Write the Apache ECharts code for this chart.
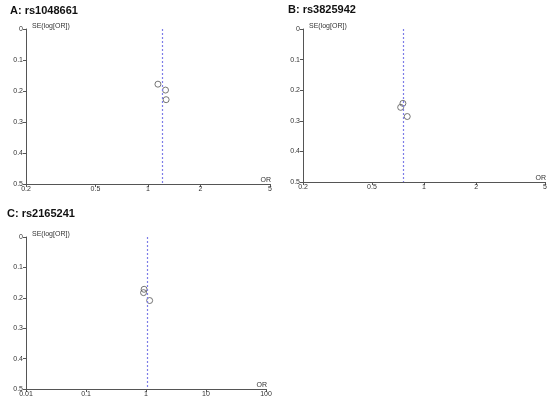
<!DOCTYPE html>
<html>
<head>
<meta charset="utf-8">
<script src="https://cdn.jsdelivr.net/npm/echarts@6/dist/echarts.min.js"></script>
<style>
  body { margin: 0; background: #fff; }
  #chart { width: 550px; height: 400px; }
</style>
</head>
<body>
<div id="chart"></div>
<script>
  // panel titles
  var titles = ['A: rs1048661', 'B: rs3825942', 'C: rs2165241']

  // OR / SE(log[OR]) per study
  var orA = [1.14, 1.26, 1.27]
  var seA = [0.178, 0.197, 0.228]
  var pooledA = 1.21

  var orB = [0.733, 0.755, 0.80]
  var seB = [0.256, 0.243, 0.286]
  var pooledB = 0.76

  var orC = [0.93, 0.91, 1.15]
  var seC = [0.172, 0.183, 0.209]
  var pooledC = 1.03

  // tick labels
  var xTicksAB = [0.2, 0.5, 1, 2, 5]
  var xTicksC = [0.01, 0.1, 1, 10, 100]

  var font = 'Liberation Sans, Arial, sans-serif'
  var axisColor = '#555'
  var textColor = '#333'

  function pairs(or, se) {
    return or.map(function (v, i) { return [v, se[i]] })
  }

  var grids = [
    {left: 26, top: 29, width: 244, height: 155},
    {left: 303, top: 29, width: 245, height: 153},
    {left: 26, top: 237, width: 240, height: 152}
  ]

  function xAxis(idx, ticks) {
    return {
      type: 'log',
      logBase: 10,
      gridIndex: idx,
      position: 'bottom',
      min: ticks[0],
      max: ticks[ticks.length - 1],
      name: 'OR',
      nameLocation: 'end',
      nameGap: 1,
      nameTextStyle: {color: textColor, fontSize: 7, fontFamily: font, align: 'right', verticalAlign: 'bottom'},
      axisLine: {onZero: false, lineStyle: {color: axisColor, width: 1}},
      axisTick: {show: true, length: 3, customValues: ticks, lineStyle: {color: axisColor}},
      axisLabel: {customValues: ticks, margin: 2, fontSize: 7, color: textColor, fontFamily: font,
        formatter: function (v) { return String(+v.toPrecision(3)) }},
      splitLine: {show: false},
      minorTick: {show: false}
    }
  }

  function yAxis(idx) {
    return {
      type: 'value',
      gridIndex: idx,
      inverse: true,
      min: 0,
      max: 0.5,
      interval: 0.1,
      name: 'SE(log[OR])',
      nameLocation: 'start',
      nameGap: 3,
      nameTextStyle: {color: textColor, fontSize: 7, fontFamily: font, align: 'left', verticalAlign: 'middle', padding: [0, 0, 0, 6]},
      axisLine: {show: true, onZero: false, lineStyle: {color: axisColor, width: 1}},
      axisTick: {show: true, length: 3, lineStyle: {color: axisColor}},
      axisLabel: {margin: 3, fontSize: 7, color: textColor, fontFamily: font,
        formatter: function (v) { return String(+v.toFixed(1)) }},
      splitLine: {show: false}
    }
  }

  function series(idx, or, se, pooled) {
    return {
      type: 'scatter',
      xAxisIndex: idx,
      yAxisIndex: idx,
      symbol: 'circle',
      symbolSize: 6,
      itemStyle: {color: 'rgba(0,0,0,0)', borderColor: '#555', borderWidth: 1},
      data: pairs(or, se),
      markLine: {
        silent: true,
        symbol: 'none',
        label: {show: false},
        lineStyle: {color: '#7d7de8', type: [2, 2], width: 1.2, opacity: 1},
        data: [{xAxis: pooled}]
      }
    }
  }

  var option = {
    animation: false,
    backgroundColor: '#fff',
    title: [
      {text: titles[0], left: 10, top: 5, padding: 0, textStyle: {fontSize: 11, fontWeight: 'bold', color: '#111', fontFamily: font}},
      {text: titles[1], left: 288, top: 4, padding: 0, textStyle: {fontSize: 11, fontWeight: 'bold', color: '#111', fontFamily: font}},
      {text: titles[2], left: 7, top: 208, padding: 0, textStyle: {fontSize: 11, fontWeight: 'bold', color: '#111', fontFamily: font}}
    ],
    grid: grids,
    xAxis: [xAxis(0, xTicksAB), xAxis(1, xTicksAB), xAxis(2, xTicksC)],
    yAxis: [yAxis(0), yAxis(1), yAxis(2)],
    series: [
      series(0, orA, seA, pooledA),
      series(1, orB, seB, pooledB),
      series(2, orC, seC, pooledC)
    ]
  }

  var myChart = echarts.init(document.getElementById('chart'))
  myChart.setOption(option)
</script>
</body>
</html>
